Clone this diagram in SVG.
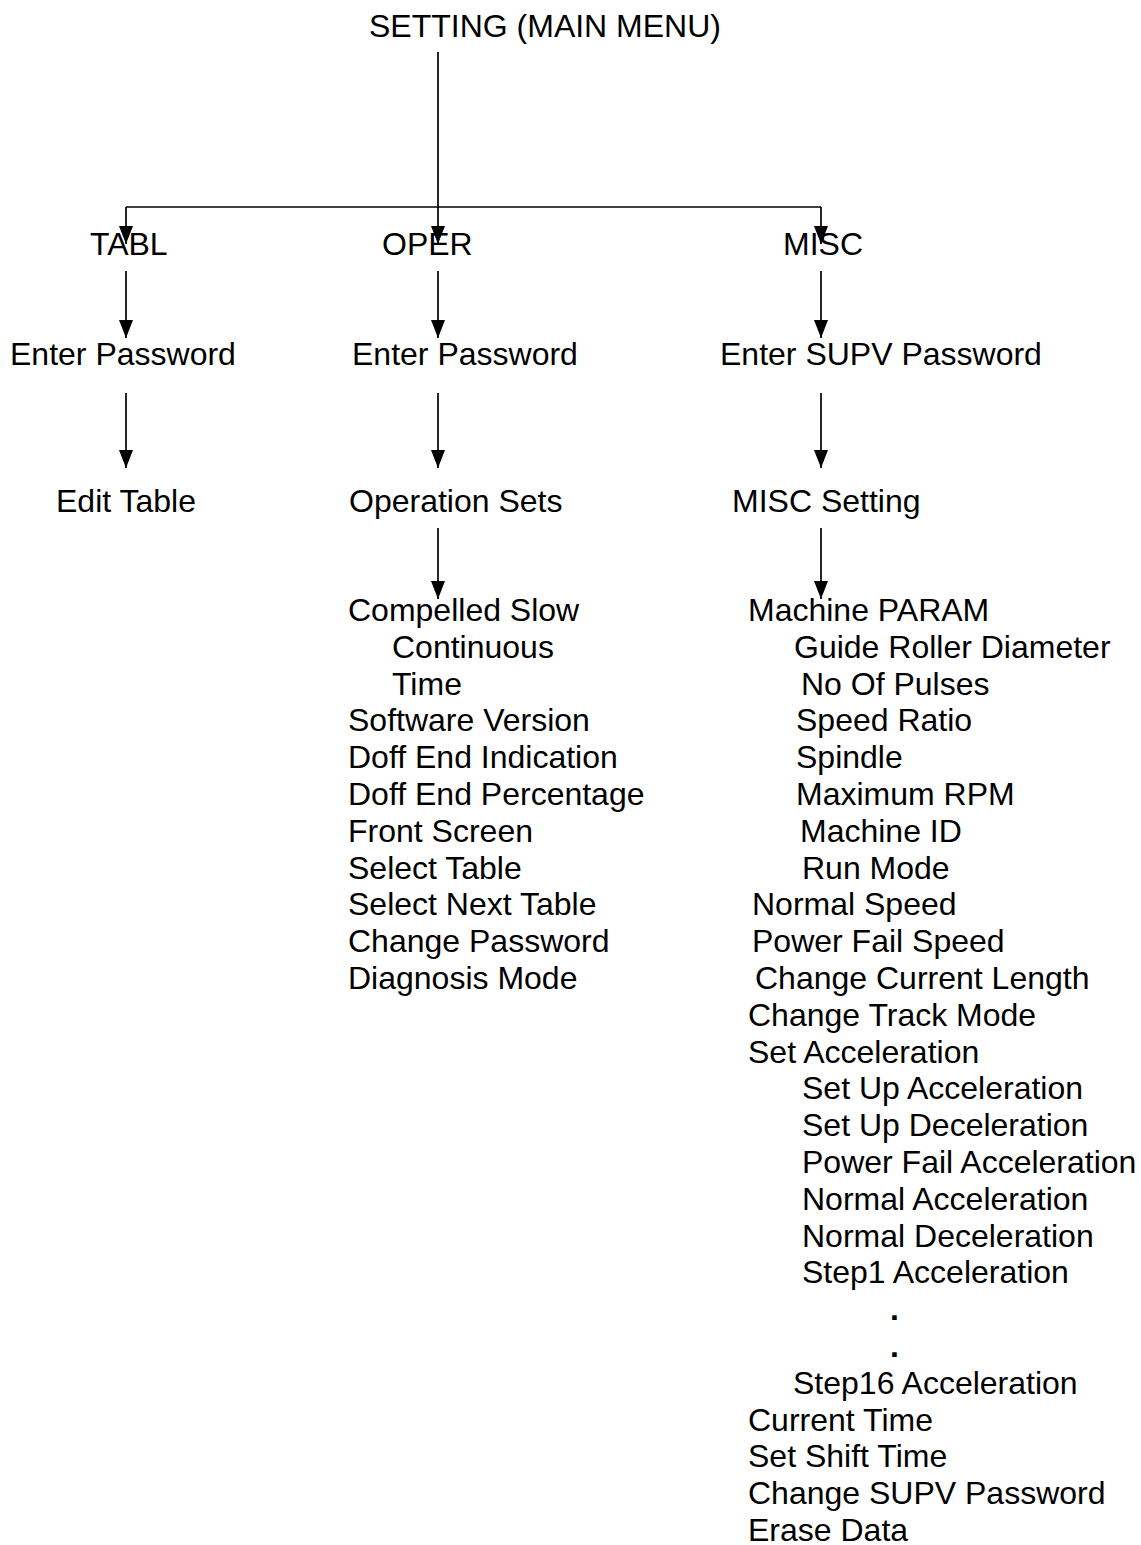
<svg xmlns="http://www.w3.org/2000/svg" width="1141" height="1545" viewBox="0 0 1141 1545">
<style>
text{font-family:"Liberation Sans",Arial,sans-serif;font-size:32px;fill:#000}
.c{stroke:#000;stroke-width:1.7;fill:none}
.b{font-weight:bold}
</style>
<defs>
<marker id="ah" viewBox="0 0 18 14" refX="18" refY="7" markerWidth="18" markerHeight="14" markerUnits="userSpaceOnUse" orient="auto">
<path d="M0,0 L18,7 L0,14 Z" fill="#000"/>
</marker>
</defs>
<rect width="1141" height="1545" fill="#fff"/>
<g id="connectors">
<line class="c" x1="126" y1="207" x2="821" y2="207"/>
<line class="c" x1="438" y1="52" x2="438" y2="244" marker-end="url(#ah)"/>
<line class="c" x1="126" y1="207" x2="126" y2="244" marker-end="url(#ah)"/>
<line class="c" x1="821" y1="207" x2="821" y2="244" marker-end="url(#ah)"/>
<line class="c" x1="126" y1="271" x2="126" y2="338" marker-end="url(#ah)"/>
<line class="c" x1="438" y1="271" x2="438" y2="338" marker-end="url(#ah)"/>
<line class="c" x1="821" y1="271" x2="821" y2="338" marker-end="url(#ah)"/>
<line class="c" x1="126" y1="393" x2="126" y2="468" marker-end="url(#ah)"/>
<line class="c" x1="438" y1="393" x2="438" y2="468" marker-end="url(#ah)"/>
<line class="c" x1="821" y1="393" x2="821" y2="468" marker-end="url(#ah)"/>
<line class="c" x1="438" y1="528" x2="438" y2="599" marker-end="url(#ah)"/>
<line class="c" x1="821" y1="528" x2="821" y2="599" marker-end="url(#ah)"/>
</g>
<g id="main"><text x="369" y="36.5">SETTING (MAIN MENU)</text></g>
<g id="tabl"><text x="90" y="255">TABL</text></g>
<g id="oper"><text x="382" y="255">OPER</text></g>
<g id="misc"><text x="783" y="255">MISC</text></g>
<g id="tabl-pw"><text x="10" y="364.5">Enter Password</text></g>
<g id="oper-pw"><text x="352" y="364.5">Enter Password</text></g>
<g id="misc-pw"><text x="720" y="364.5">Enter SUPV Password</text></g>
<g id="edit-table"><text x="56" y="511.5">Edit Table</text></g>
<g id="operation-sets"><text x="349" y="511.5">Operation Sets</text></g>
<g id="misc-setting"><text x="732" y="511.5">MISC Setting</text></g>
<g id="oper-list">
<text x="348" y="621">Compelled Slow</text>
<text x="392" y="657.8">Continuous</text>
<text x="392" y="694.6">Time</text>
<text x="348" y="731.4">Software Version</text>
<text x="348" y="768.2">Doff End Indication</text>
<text x="348" y="805">Doff End Percentage</text>
<text x="348" y="841.8">Front Screen</text>
<text x="348" y="878.6">Select Table</text>
<text x="348" y="915.4">Select Next Table</text>
<text x="348" y="952.2">Change Password</text>
<text x="348" y="989">Diagnosis Mode</text>
</g>
<g id="misc-list">
<text x="748" y="621">Machine PARAM</text>
<text x="794" y="657.8">Guide Roller Diameter</text>
<text x="801" y="694.6">No Of Pulses</text>
<text x="796" y="731.4">Speed Ratio</text>
<text x="796" y="768.2">Spindle</text>
<text x="796" y="805">Maximum RPM</text>
<text x="800" y="841.8">Machine ID</text>
<text x="802" y="878.6">Run Mode</text>
<text x="752" y="915.4">Normal Speed</text>
<text x="752" y="952.2">Power Fail Speed</text>
<text x="755" y="989">Change Current Length</text>
<text x="748" y="1025.8">Change Track Mode</text>
<text x="748" y="1062.6">Set Acceleration</text>
<text x="802" y="1099.4">Set Up Acceleration</text>
<text x="802" y="1136.2">Set Up Deceleration</text>
<text x="802" y="1173">Power Fail Acceleration</text>
<text x="802" y="1209.8">Normal Acceleration</text>
<text x="802" y="1246.6">Normal Deceleration</text>
<text x="802" y="1283.4">Step1 Acceleration</text>
<text class="b" x="890" y="1320.2">.</text>
<text class="b" x="890" y="1357">.</text>
<text x="793" y="1393.8">Step16 Acceleration</text>
<text x="748" y="1430.6">Current Time</text>
<text x="748" y="1467.4">Set Shift Time</text>
<text x="748" y="1504.2">Change SUPV Password</text>
<text x="748" y="1541">Erase Data</text>
</g>
</svg>
